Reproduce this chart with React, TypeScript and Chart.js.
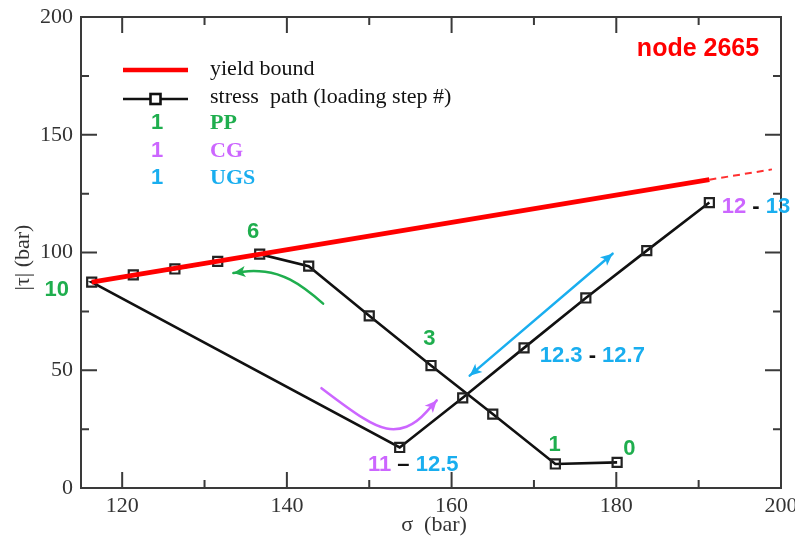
import React, { useEffect, useRef } from "react";
import { Chart, registerables } from "chart.js";

Chart.register(...registerables);

// ---- data (sigma in bar, |tau| in bar), stress path in loading order 0..13
const stressSigma = [180.1, 172.6, 165.0, 157.5, 150.0, 142.65, 136.7, 131.6, 126.4, 121.35, 116.3, 153.7, 161.35, 168.8, 176.3, 183.7, 191.3];
const stressTau = [10.9, 10.2, 31.4, 52.0, 73.1, 94.2, 99.3, 96.2, 93.0, 90.5, 87.4, 17.2, 38.3, 59.5, 80.7, 100.8, 121.2];
const yieldSigma = [116.3, 191.3];
const yieldTau = [87.4, 130.9];
const yieldExtSigma = [191.3, 198.9];
const yieldExtTau = [130.9, 135.3];
const xTickValues = [120, 140, 160, 180, 200];
const yTickValues = [0, 50, 100, 150, 200];
const xMinorTicks = [130, 150, 170, 190];
const yMinorTicks = [25, 75, 125, 175];

// ---- annotation geometry (data coordinates)
const greenArrowSigma = [144.4, 142.0, 138.8, 135.9, 133.5];
const greenArrowTau = [78.3, 85.6, 91.3, 92.4, 91.3];
const purpleArrowSigma = [144.2, 147.65, 150.9, 153.3, 155.75, 158.2];
const purpleArrowTau = [42.4, 33.2, 26.1, 24.4, 27.6, 37.2];
const blueArrowSigma = [162.2, 179.55];
const blueArrowTau = [47.7, 99.5];

const GREEN = "#1fae4e";
const PURPLE = "#cc66ff";
const BLUE = "#19aeef";
const RED = "#ff0000";

type Piece = { t: string; c: string };
type Label = { x: number; y: number; align: CanvasTextAlign; pieces: Piece[] };

const pointLabels: Label[] = [
  { x: 112.05, y: 84.2, align: "center", pieces: [{ t: "10", c: GREEN }] },
  { x: 135.9, y: 108.9, align: "center", pieces: [{ t: "6", c: GREEN }] },
  { x: 157.3, y: 63.2, align: "center", pieces: [{ t: "3", c: GREEN }] },
  { x: 172.5, y: 18.4, align: "center", pieces: [{ t: "1", c: GREEN }] },
  { x: 181.6, y: 16.6, align: "center", pieces: [{ t: "0", c: GREEN }] },
  { x: 149.85, y: 9.9, align: "left", pieces: [{ t: "11", c: PURPLE }, { t: " \u2013 ", c: "#111" }, { t: "12.5", c: BLUE }] },
  { x: 170.7, y: 55.9, align: "left", pieces: [{ t: "12.3", c: BLUE }, { t: " - ", c: "#111" }, { t: "12.7", c: BLUE }] },
  { x: 192.8, y: 119.5, align: "left", pieces: [{ t: "12", c: PURPLE }, { t: " - ", c: "#111" }, { t: "13", c: BLUE }] },
];

const SERIF = '"Liberation Serif", "Times New Roman", serif';
const SANS = '"Liberation Sans", Arial, sans-serif';

function arrowHead(ctx: CanvasRenderingContext2D, tip: { x: number; y: number }, from: { x: number; y: number }, color: string, len: number, half: number) {
  const a = Math.atan2(tip.y - from.y, tip.x - from.x);
  const c = Math.cos(a), s = Math.sin(a);
  ctx.save();
  ctx.fillStyle = color;
  ctx.beginPath();
  ctx.moveTo(tip.x, tip.y);
  ctx.lineTo(tip.x - len * c + half * s, tip.y - len * s - half * c);
  ctx.lineTo(tip.x - len * c * 0.75, tip.y - len * s * 0.75);
  ctx.lineTo(tip.x - len * c - half * s, tip.y - len * s + half * c);
  ctx.closePath();
  ctx.fill();
  ctx.restore();
}

function curve(ctx: CanvasRenderingContext2D, pts: { x: number; y: number }[], color: string, width: number) {
  ctx.save();
  ctx.strokeStyle = color;
  ctx.lineWidth = width;
  ctx.lineCap = "round";
  ctx.lineJoin = "round";
  ctx.beginPath();
  ctx.moveTo(pts[0].x, pts[0].y);
  for (let i = 1; i < pts.length - 1; i++) {
    const mx = (pts[i].x + pts[i + 1].x) / 2;
    const my = (pts[i].y + pts[i + 1].y) / 2;
    ctx.quadraticCurveTo(pts[i].x, pts[i].y, mx, my);
  }
  const l = pts[pts.length - 1];
  ctx.lineTo(l.x, l.y);
  ctx.stroke();
  ctx.restore();
}

const overlay = {
  id: "overlay",
  beforeDatasetsDraw(chart: any) {
    const { ctx, chartArea: a, scales } = chart;
    const xs = scales.x, ys = scales.y;
    ctx.save();
    ctx.strokeStyle = "#3a3a3a";
    ctx.lineWidth = 2;
    ctx.strokeRect(a.left, a.top, a.right - a.left, a.bottom - a.top);
    ctx.beginPath();
    const tickX = (v: number, len: number) => {
      const px = xs.getPixelForValue(v);
      ctx.moveTo(px, a.bottom); ctx.lineTo(px, a.bottom - len);
      ctx.moveTo(px, a.top); ctx.lineTo(px, a.top + len);
    };
    const tickY = (v: number, len: number) => {
      const py = ys.getPixelForValue(v);
      ctx.moveTo(a.left, py); ctx.lineTo(a.left + len, py);
      ctx.moveTo(a.right, py); ctx.lineTo(a.right - len, py);
    };
    xTickValues.forEach((v) => tickX(v, 16));
    xMinorTicks.forEach((v) => tickX(v, 8));
    yTickValues.forEach((v) => tickY(v, 16));
    yMinorTicks.forEach((v) => tickY(v, 8));
    ctx.stroke();

    // axis titles
    ctx.fillStyle = "#333";
    ctx.font = `22px ${SERIF}`;
    ctx.textAlign = "center";
    ctx.textBaseline = "middle";
    ctx.fillText("\u03c3  (bar)", (a.left + a.right) / 2 + 3, 525);
    ctx.save();
    ctx.translate(23, (a.top + a.bottom) / 2 + 5);
    ctx.rotate(-Math.PI / 2);
    ctx.fillText("|\u03c4| (bar)", 0, 0);
    ctx.restore();

    // legend
    ctx.lineCap = "butt";
    ctx.strokeStyle = RED;
    ctx.lineWidth = 4.5;
    ctx.beginPath(); ctx.moveTo(123, 70); ctx.lineTo(188, 70); ctx.stroke();
    ctx.strokeStyle = "#111";
    ctx.lineWidth = 2.6;
    ctx.beginPath(); ctx.moveTo(123, 99); ctx.lineTo(188, 99); ctx.stroke();
    ctx.fillStyle = "#fff";
    ctx.fillRect(150.5, 94, 10, 10);
    ctx.strokeRect(150.5, 94, 10, 10);
    ctx.fillStyle = "#111";
    ctx.textAlign = "left";
    ctx.font = `22px ${SERIF}`;
    ctx.fillText("yield bound", 210, 69);
    ctx.fillText("stress  path (loading step #)", 210, 97);
    const rows: [string, string, number][] = [["PP", GREEN, 123], ["CG", PURPLE, 151], ["UGS", BLUE, 178]];
    rows.forEach(([t, c, y]) => {
      ctx.fillStyle = c;
      ctx.textAlign = "center";
      ctx.font = `bold 22px ${SANS}`;
      ctx.fillText("1", 157, y);
      ctx.textAlign = "left";
      ctx.font = `bold 22px ${SERIF}`;
      ctx.fillText(t, 210, y);
    });

    // node label
    ctx.fillStyle = RED;
    ctx.font = `bold 25px ${SANS}`;
    ctx.textAlign = "center";
    ctx.fillText("node 2665", 698, 49);
    ctx.restore();
  },
  afterDatasetsDraw(chart: any) {
    const { ctx, scales } = chart;
    const xs = scales.x, ys = scales.y;
    const P = (sx: number[], ty: number[]) => sx.map((v, i) => ({ x: xs.getPixelForValue(v), y: ys.getPixelForValue(ty[i]) }));

    const g = P(greenArrowSigma, greenArrowTau);
    curve(ctx, g, GREEN, 2.5);
    arrowHead(ctx, g[g.length - 1], g[g.length - 2], GREEN, 12, 5.5);

    const p = P(purpleArrowSigma, purpleArrowTau);
    curve(ctx, p, PURPLE, 2.5);
    arrowHead(ctx, p[p.length - 1], p[p.length - 2], PURPLE, 12, 5.5);

    const b = P(blueArrowSigma, blueArrowTau);
    curve(ctx, b, BLUE, 2.5);
    arrowHead(ctx, b[1], b[0], BLUE, 12, 5.5);
    arrowHead(ctx, b[0], b[1], BLUE, 12, 5.5);

    ctx.save();
    ctx.font = `bold 22px ${SANS}`;
    ctx.textBaseline = "middle";
    pointLabels.forEach((lab) => {
      const px = xs.getPixelForValue(lab.x);
      const py = ys.getPixelForValue(lab.y);
      if (lab.align === "center") {
        ctx.textAlign = "center";
        ctx.fillStyle = lab.pieces[0].c;
        ctx.fillText(lab.pieces[0].t, px, py);
      } else {
        ctx.textAlign = "left";
        let cx = px;
        lab.pieces.forEach((pc) => {
          ctx.fillStyle = pc.c;
          ctx.fillText(pc.t, cx, py);
          cx += ctx.measureText(pc.t).width;
        });
      }
    });
    ctx.restore();
  },
};

export default function App() {
  const ref = useRef<HTMLCanvasElement | null>(null);
  useEffect(() => {
    if (!ref.current) return;
    const toPts = (xs: number[], ys: number[]) => xs.map((x, i) => ({ x, y: ys[i] }));
    const chart = new Chart(ref.current, {
      type: "scatter",
      data: {
        datasets: [
          {
            label: "yield bound",
            data: toPts(yieldSigma, yieldTau),
            showLine: true,
            borderColor: RED,
            borderWidth: 4.8,
            pointRadius: 0,
            order: 0,
          },
          {
            label: "yield bound (extrapolated)",
            data: toPts(yieldExtSigma, yieldExtTau),
            showLine: true,
            borderColor: "#ff3030",
            borderWidth: 2,
            borderDash: [7, 5],
            pointRadius: 0,
            order: 0,
          },
          {
            label: "stress path (loading step #)",
            data: toPts(stressSigma, stressTau),
            showLine: true,
            borderColor: "#111",
            borderWidth: 2.6,
            pointStyle: "rect",
            pointRadius: 6.4,
            pointBorderWidth: 2.2,
            pointBorderColor: "#222",
            pointBackgroundColor: "rgba(255,255,255,0)",
            order: 1,
          },
        ],
      },
      options: {
        animation: false,
        responsive: false,
        events: [],
        layout: { padding: { top: 17, right: 14, left: 0, bottom: 0 } },
        plugins: { legend: { display: false }, tooltip: { enabled: false } },
        scales: {
          x: {
            type: "linear",
            min: 115,
            max: 200,
            grid: { display: false, drawTicks: false },
            border: { display: false },
            ticks: { font: { family: "Liberation Serif", size: 22 }, color: "#333", padding: 5, maxRotation: 0, autoSkip: false },
            afterBuildTicks: (s: any) => { s.ticks = xTickValues.map((v) => ({ value: v })); },
            afterFit: (s: any) => { s.height = 52; s.paddingLeft = 0; s.paddingRight = 0; },
          },
          y: {
            type: "linear",
            min: 0,
            max: 200,
            grid: { display: false, drawTicks: false },
            border: { display: false },
            ticks: { font: { family: "Liberation Serif", size: 22 }, color: "#333", padding: 8, autoSkip: false },
            afterBuildTicks: (s: any) => { s.ticks = yTickValues.map((v) => ({ value: v })); },
            afterFit: (s: any) => { s.width = 81; s.paddingTop = 0; s.paddingBottom = 0; },
          },
        },
      },
      plugins: [overlay],
    } as any);
    return () => chart.destroy();
  }, []);
  return (
    <div style={{ position: "absolute", left: 0, top: 0, width: 795, height: 540, background: "#fff" }}>
      <canvas ref={ref} width={795} height={540} style={{ display: "block", width: 795, height: 540 }} />
    </div>
  );
}
